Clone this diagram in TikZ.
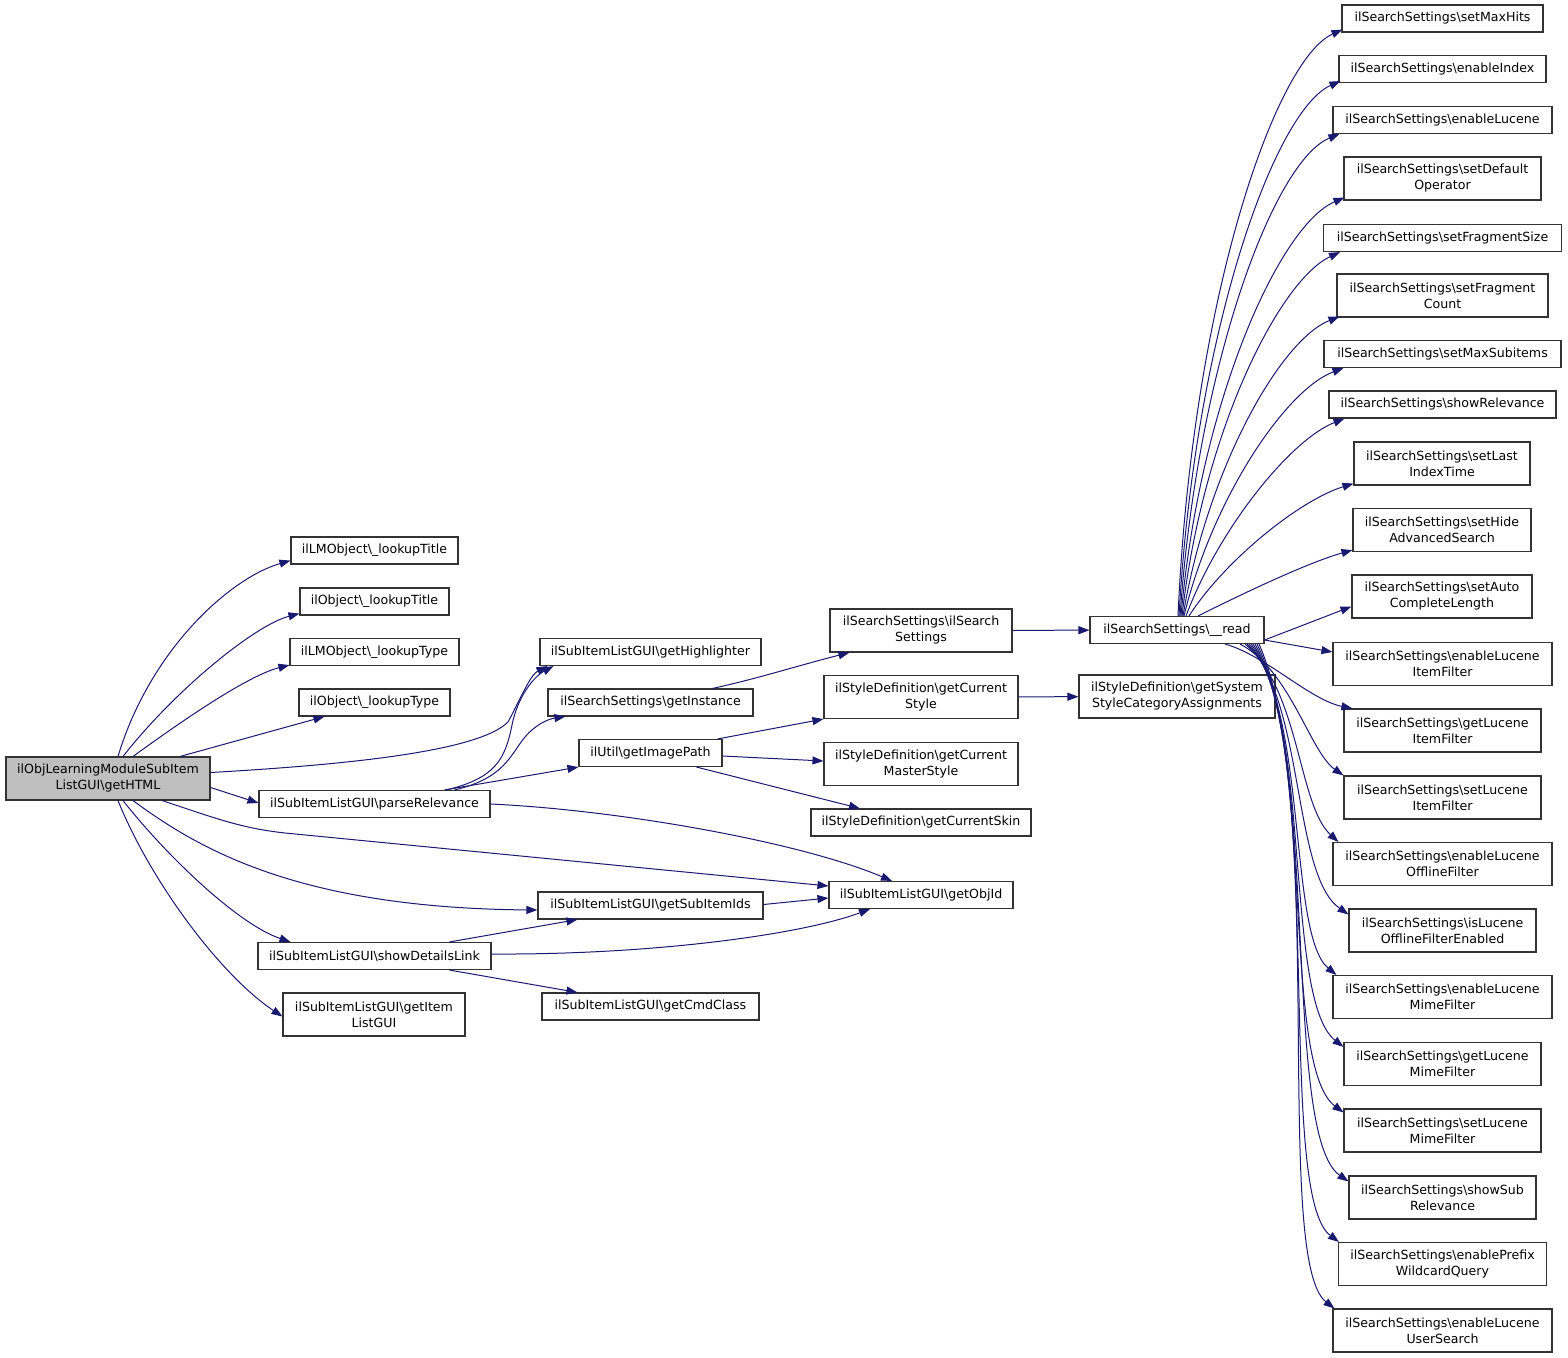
\documentclass[tikz,border=0pt]{standalone}
\usepackage{fontspec}
\setmainfont{DejaVu Sans}
\usetikzlibrary{arrows.meta}
\definecolor{edgeblue}{RGB}{25,25,112}
\definecolor{boxgray}{RGB}{191,191,191}
\newcommand{\bsl}{\textbackslash{}}
\begin{document}
\begin{tikzpicture}[x=1pt,y=-1pt,
  box/.style={draw=black!80, line width=1.1pt, fill=white, inner sep=0pt, align=center,
    font=\fontsize{12.6}{16}\selectfont},
  sbox/.style={box, minimum height=27pt},
  dbox/.style={box, minimum height=43pt},
  edge/.style={draw=edgeblue, line width=1pt, -{Triangle[length=11pt,width=8pt]}}]
\useasboundingbox (0,0) rectangle (1568,1357);
% left column
\node[dbox, fill=boxgray, minimum width=204pt] (html) at (108,778.5) {ilObjLearningModuleSubItem\\ListGUI\bsl getHTML};
\node[sbox, minimum width=167pt] (lmTitle) at (374.5,550.5) {ilLMObject\bsl\_lookupTitle};
\node[sbox, minimum width=149pt] (objTitle) at (374.5,601.5) {ilObject\bsl\_lookupTitle};
\node[sbox, minimum width=169pt] (lmType) at (374.5,652) {ilLMObject\bsl\_lookupType};
\node[sbox, minimum width=151pt] (objType) at (374.5,702.5) {ilObject\bsl\_lookupType};
\node[sbox, minimum width=231pt] (pR) at (374.5,804) {ilSubItemListGUI\bsl parseRelevance};
\node[sbox, minimum width=233pt] (sdl) at (374.5,956) {ilSubItemListGUI\bsl showDetailsLink};
\node[dbox, minimum width=182pt] (itemList) at (374,1014.5) {ilSubItemListGUI\bsl getItem\\ListGUI};
% middle column
\node[sbox, minimum width=221pt] (getHL) at (650.5,652) {ilSubItemListGUI\bsl getHighlighter};
\node[sbox, minimum width=205pt] (getInst) at (650.5,702.5) {ilSearchSettings\bsl getInstance};
\node[sbox, minimum width=143pt] (imgPath) at (650.5,753) {ilUtil\bsl getImagePath};
\node[sbox, minimum width=225pt] (subIds) at (650.5,905.5) {ilSubItemListGUI\bsl getSubItemIds};
\node[sbox, minimum width=217pt] (cmdClass) at (650.5,1006.5) {ilSubItemListGUI\bsl getCmdClass};
% third column
\node[dbox, minimum width=182pt] (ssCtor) at (921,630.5) {ilSearchSettings\bsl ilSearch\\Settings};
\node[dbox, minimum width=194pt] (curStyle) at (921,697) {ilStyleDefinition\bsl getCurrent\\Style};
\node[dbox, minimum width=194pt] (curMaster) at (921,764) {ilStyleDefinition\bsl getCurrent\\MasterStyle};
\node[sbox, minimum width=220pt] (curSkin) at (921,822.5) {ilStyleDefinition\bsl getCurrentSkin};
\node[sbox, minimum width=184pt] (objId) at (921,895) {ilSubItemListGUI\bsl getObjId};
% fourth column
\node[sbox, minimum width=174pt] (read) at (1177,630) {ilSearchSettings\bsl\_\_read};
\node[dbox, minimum width=196pt] (sysStyle) at (1177,696.5) {ilStyleDefinition\bsl getSystem\\StyleCategoryAssignments};
% right column
\node[sbox, minimum width=201pt] (t1) at (1442.5,18.5) {ilSearchSettings\bsl setMaxHits};
\node[sbox, minimum width=207pt] (t2) at (1442.5,69) {ilSearchSettings\bsl enableIndex};
\node[sbox, minimum width=219pt] (t3) at (1442.5,120) {ilSearchSettings\bsl enableLucene};
\node[dbox, minimum width=197pt] (t4) at (1442.5,178.5) {ilSearchSettings\bsl setDefault\\Operator};
\node[sbox, minimum width=238pt] (t5) at (1442.5,238) {ilSearchSettings\bsl setFragmentSize};
\node[dbox, minimum width=211pt] (t6) at (1442.5,295.5) {ilSearchSettings\bsl setFragment\\Count};
\node[sbox, minimum width=237pt] (t7) at (1442.5,354) {ilSearchSettings\bsl setMaxSubitems};
\node[sbox, minimum width=227pt] (t8) at (1442.5,404.5) {ilSearchSettings\bsl showRelevance};
\node[dbox, minimum width=176pt] (t9) at (1442,463.5) {ilSearchSettings\bsl setLast\\IndexTime};
\node[dbox, minimum width=178pt] (t10) at (1442,530) {ilSearchSettings\bsl setHide\\AdvancedSearch};
\node[dbox, minimum width=180pt] (t11) at (1442,596.5) {ilSearchSettings\bsl setAuto\\CompleteLength};
\node[dbox, minimum width=219pt] (t12) at (1442.5,664) {ilSearchSettings\bsl enableLucene\\ItemFilter};
\node[dbox, minimum width=197pt] (t13) at (1442.5,730.5) {ilSearchSettings\bsl getLucene\\ItemFilter};
\node[dbox, minimum width=197pt] (t14) at (1442.5,797.5) {ilSearchSettings\bsl setLucene\\ItemFilter};
\node[dbox, minimum width=219pt] (t15) at (1442.5,864) {ilSearchSettings\bsl enableLucene\\OfflineFilter};
\node[dbox, minimum width=187pt] (t16) at (1442.5,930.5) {ilSearchSettings\bsl isLucene\\OfflineFilterEnabled};
\node[dbox, minimum width=219pt] (t17) at (1442.5,997) {ilSearchSettings\bsl enableLucene\\MimeFilter};
\node[dbox, minimum width=197pt] (t18) at (1442.5,1064) {ilSearchSettings\bsl getLucene\\MimeFilter};
\node[dbox, minimum width=197pt] (t19) at (1442.5,1130.5) {ilSearchSettings\bsl setLucene\\MimeFilter};
\node[dbox, minimum width=187pt] (t20) at (1442.5,1197.5) {ilSearchSettings\bsl showSub\\Relevance};
\node[dbox, minimum width=208pt] (t21) at (1442.5,1264) {ilSearchSettings\bsl enablePrefix\\WildcardQuery};
\node[dbox, minimum width=219pt] (t22) at (1442.5,1330.5) {ilSearchSettings\bsl enableLucene\\UserSearch};

% edges from getHTML
\draw[edge] ([xshift=10pt]html.north) .. controls (150,650) and (230,578) .. ([yshift=4pt]lmTitle.south west);
\draw[edge] ([xshift=15pt]html.north) .. controls (175,690) and (255,625) .. ([yshift=2pt]objTitle.south west);
\draw[edge] ([xshift=25pt]html.north) .. controls (190,715) and (250,675) .. ([yshift=1pt]lmType.south west);
\draw[edge] ([xshift=72pt]html.north) -- ([xshift=26pt]objType.south west);
\draw[edge] ([yshift=6pt]html.east) .. controls (360,764) and (480,750) .. (508,722) .. controls (520,700) and (530,675) .. ([xshift=8pt]getHL.south west);
\draw[edge] ([yshift=-9pt]html.east) -- ([yshift=1pt]pR.west);
\draw[edge] ([xshift=54pt]html.south) .. controls (215,818) and (240,828) .. (285,833) -- ([yshift=9pt]objId.west);
\draw[edge] ([xshift=25pt]html.south) .. controls (200,850) and (300,908) .. ([yshift=-4.5pt]subIds.west);
\draw[edge] ([xshift=15pt]html.south) .. controls (170,860) and (240,925) .. ([xshift=-84pt]sdl.north);
\draw[edge] ([xshift=10pt]html.south) .. controls (150,880) and (220,975) .. ([yshift=-2pt]itemList.west);
% edges from parseRelevance
\draw[edge] ([xshift=72pt]pR.north) .. controls (495,778) and (505,760) .. (512,725) .. controls (518,695) and (535,676) .. ([xshift=14pt]getHL.south west);
\draw[edge] ([xshift=80pt]pR.north) .. controls (505,778) and (510,755) .. (525,737) .. controls (535,725) and (548,719) .. ([xshift=18pt]getInst.south west);
\draw[edge] ([xshift=70pt]pR.north) -- (imgPath.south west);
\draw[edge] (pR.east) .. controls (620,810) and (800,842) .. ([xshift=-29pt]objId.north);
% edges from showDetailsLink
\draw[edge] ([xshift=75pt]sdl.north) -- ([xshift=40pt]subIds.south west);
\draw[edge] ([yshift=2pt]sdl.east) .. controls (650,955) and (800,935) .. ([xshift=-51pt]objId.south);
\draw[edge] ([xshift=75pt]sdl.south) -- ([xshift=36pt]cmdClass.north west);
\draw[edge] ([yshift=1pt]subIds.east) -- ([yshift=-3pt]objId.west);
% middle
\draw[edge] ([xshift=62pt]getInst.north) .. controls (760,678) and (800,665) .. ([xshift=20pt]ssCtor.south west);
\draw[edge] (ssCtor) -- (read);
\draw[edge] ([xshift=-5pt]imgPath.north east) -- (curStyle.south west);
\draw[edge] ([yshift=-3pt]imgPath.east) -- ([yshift=3pt]curMaster.west);
\draw[edge] ([xshift=46pt]imgPath.south) -- ([xshift=-61pt]curSkin.north);
\draw[edge] (curStyle) -- (sysStyle);
% edges from __read upwards
\draw[edge] ([xshift=1pt]read.north) .. controls (1192,300) and (1275,60) .. ([xshift=1pt,yshift=3pt]t1.south west);
\draw[edge] ([xshift=2pt]read.north) .. controls (1195,330) and (1275,110) .. ([xshift=2pt,yshift=2pt]t2.south west);
\draw[edge] ([xshift=3pt]read.north) .. controls (1198,360) and (1275,160) .. ([xshift=7pt]t3.south west);
\draw[edge] ([xshift=4pt]read.north) .. controls (1200,400) and (1280,225) .. ([xshift=1pt,yshift=3pt]t4.south west);
\draw[edge] ([xshift=5pt]read.north) .. controls (1203,430) and (1280,280) .. ([xshift=17pt]t5.south west);
\draw[edge] ([xshift=6pt]read.north) .. controls (1207,470) and (1280,340) .. ([xshift=3pt,yshift=1pt]t6.south west);
\draw[edge] ([xshift=7pt]read.north) .. controls (1212,500) and (1285,390) .. ([xshift=20pt]t7.south west);
\draw[edge] ([xshift=9pt]read.north) .. controls (1218,530) and (1290,440) .. ([xshift=16pt]t8.south west);
\draw[edge] ([xshift=12pt]read.north) .. controls (1225,560) and (1300,500) .. ([yshift=2pt]t9.south west);
\draw[edge] ([xshift=21pt]read.north) .. controls (1250,590) and (1310,562) .. ([yshift=2pt]t10.south west);
\draw[edge] ([yshift=-10pt]read.east) -- ([yshift=-10pt]t11.west);
% edges from __read downwards
\draw[edge] ([yshift=-10pt]read.east) -- ([yshift=12pt]t12.west);
\draw[edge] ([xshift=48pt]read.south) .. controls (1265,655) and (1310,700) .. ([xshift=9pt]t13.north west);
\draw[edge] ([xshift=63pt]read.south) .. controls (1290,670) and (1310,752) .. (t14.north west);
\draw[edge] ([xshift=68pt]read.south) .. controls (1300,690) and (1298,805) .. ([xshift=6pt]t15.north west);
\draw[edge] ([xshift=70pt]read.south) .. controls (1305,700) and (1292,875) .. ([yshift=-6pt]t16.north west);
\draw[edge] ([xshift=72pt]read.south) .. controls (1308,710) and (1288,935) .. ([xshift=4pt]t17.north west);
\draw[edge] ([xshift=74pt]read.south) .. controls (1312,720) and (1284,1000) .. ([yshift=-5pt]t18.north west);
\draw[edge] ([xshift=76pt]read.south) .. controls (1316,740) and (1280,1065) .. ([yshift=-4pt]t19.north west);
\draw[edge] ([xshift=78pt]read.south) .. controls (1320,760) and (1282,1135) .. ([yshift=-6pt]t20.north west);
\draw[edge] ([xshift=80pt]read.south) .. controls (1324,780) and (1276,1195) .. ([xshift=1pt]t21.north west);
\draw[edge] ([xshift=82pt]read.south) .. controls (1328,800) and (1272,1260) .. ([xshift=2pt]t22.north west);
\end{tikzpicture}
\end{document}
